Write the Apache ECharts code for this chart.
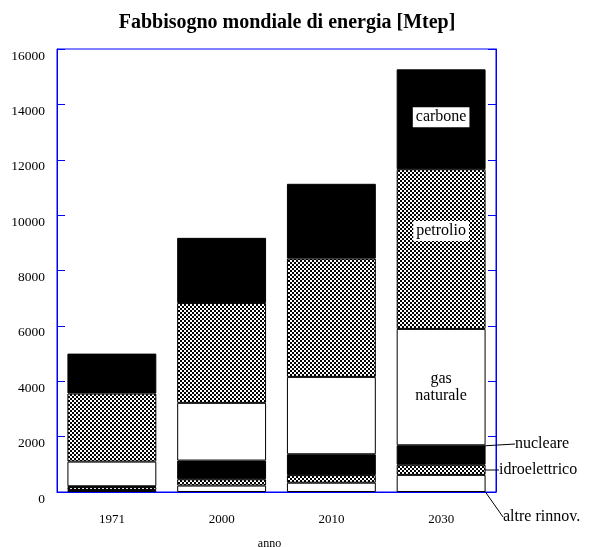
<!DOCTYPE html>
<html>
<head>
<meta charset="utf-8">
<script src="https://cdn.jsdelivr.net/npm/echarts@6/dist/echarts.min.js"></script>
<style>html,body{margin:0;padding:0;background:#fff;}#c{width:590px;height:547px;}</style>
</head>
<body>
<div id="c"></div>
<script>
const years = ['1971', '2000', '2010', '2030'];
const altreRinnov = [73, 233, 336, 618];
const idroelettrico = [104, 228, 274, 366];
const nucleare = [29, 674, 753, 703];
const gasNaturale = [892, 2085, 2794, 4203];
const petrolio = [2460, 3604, 4272, 5769];
const carbone = [1440, 2355, 2702, 3606];
const yMin = 0, yMax = 16000, yStep = 2000;

const FONT = '"Liberation Serif", "DejaVu Serif", serif';
const BLUE = '#0000ff';

function hatch() {
  const c = document.createElement('canvas');
  c.width = 4; c.height = 4;
  const g = c.getContext('2d');
  g.fillStyle = '#fff'; g.fillRect(0, 0, 4, 4);
  g.fillStyle = '#000';
  g.fillRect(0, 0, 2, 2);
  g.fillRect(2, 2, 2, 2);
  return c;
}
const pat = { image: hatch(), repeat: 'repeat' };

function inside(text, opts) {
  return Object.assign({
    show: true, position: 'inside', formatter: text,
    fontFamily: FONT, fontSize: 16, color: '#000', lineHeight: 17
  }, opts || {});
}

function makeSeries(name, values, color, label, layout) {
  const s = {
    name: name, type: 'bar', stack: 'tot', barCategoryGap: '19%',
    itemStyle: { color: color, borderColor: '#000', borderWidth: 1 },
    emphasis: { disabled: true },
    data: values.map((v, i) => (i === 3 && label) ? { value: v, label: label } : v)
  };
  if (layout) {
    s.labelLayout = function (p) { return p.dataIndex === 3 ? layout : {}; };
    s.labelLine = { show: true, lineStyle: { color: '#000', width: 1 } };
  }
  return s;
}

const outLabel = (t) => ({ show: true, position: 'right', formatter: t, fontFamily: FONT, fontSize: 16, color: '#000' });

const option = {
  animation: false,
  backgroundColor: '#fff',
  title: {
    text: 'Fabbisogno mondiale di energia [Mtep]',
    left: 282, top: 8, textAlign: 'center',
    textStyle: { fontFamily: FONT, fontSize: 20, fontWeight: 'bold', color: '#000' }
  },
  grid: { left: 57, right: 94, top: 49, bottom: 55, outerBoundsMode: 'none', containLabel: false, show: true, borderColor: BLUE, borderWidth: 1, backgroundColor: 'transparent' },
  xAxis: {
    type: 'category', data: years,
    name: 'anno', nameLocation: 'middle', nameGap: 46,
    nameTextStyle: { fontFamily: FONT, fontSize: 12, color: '#000', padding: [0, 14, 0, 0] },
    axisLine: { lineStyle: { color: BLUE, width: 1 } },
    axisTick: { show: false },
    axisLabel: { fontFamily: FONT, fontSize: 13, color: '#000', margin: 21 }
  },
  yAxis: [{
    type: 'value', min: yMin, max: yMax, interval: yStep,
    axisLine: { show: true, lineStyle: { color: BLUE, width: 1 } },
    axisTick: { show: true, inside: true, length: 8, lineStyle: { color: BLUE } },
    splitLine: { show: false },
    axisLabel: { fontFamily: FONT, fontSize: 13.5, color: '#000', margin: 12, verticalAlign: 'top', formatter: (v) => String(v) }
  }, {
    type: 'value', min: yMin, max: yMax, interval: yStep, position: 'right',
    axisLine: { show: true, lineStyle: { color: BLUE, width: 1 } },
    axisTick: { show: true, inside: true, length: 8, lineStyle: { color: BLUE } },
    splitLine: { show: false },
    axisLabel: { show: false }
  }],
  series: [
    makeSeries('altre rinnov.', altreRinnov, '#fff', outLabel('altre rinnov.'), { x: 503, y: 517, align: 'left', verticalAlign: 'middle' }),
    makeSeries('idroelettrico', idroelettrico, pat, outLabel('idroelettrico'), { x: 499, y: 470, align: 'left', verticalAlign: 'middle' }),
    makeSeries('nucleare', nucleare, '#000', outLabel('nucleare'), { x: 515, y: 444, align: 'left', verticalAlign: 'middle' }),
    makeSeries('gas naturale', gasNaturale, '#fff', inside('gas\nnaturale')),
    makeSeries('petrolio', petrolio, pat, inside('petrolio', { backgroundColor: '#fff', padding: [2, 3, 1, 3], offset: [0, -18] })),
    makeSeries('carbone', carbone, '#000', inside('carbone', { backgroundColor: '#fff', padding: [2, 3, 1, 3], offset: [0, -2] }))
  ]
};

echarts.init(document.getElementById('c'), null, { renderer: 'canvas' }).setOption(option);
</script>
</body>
</html>
